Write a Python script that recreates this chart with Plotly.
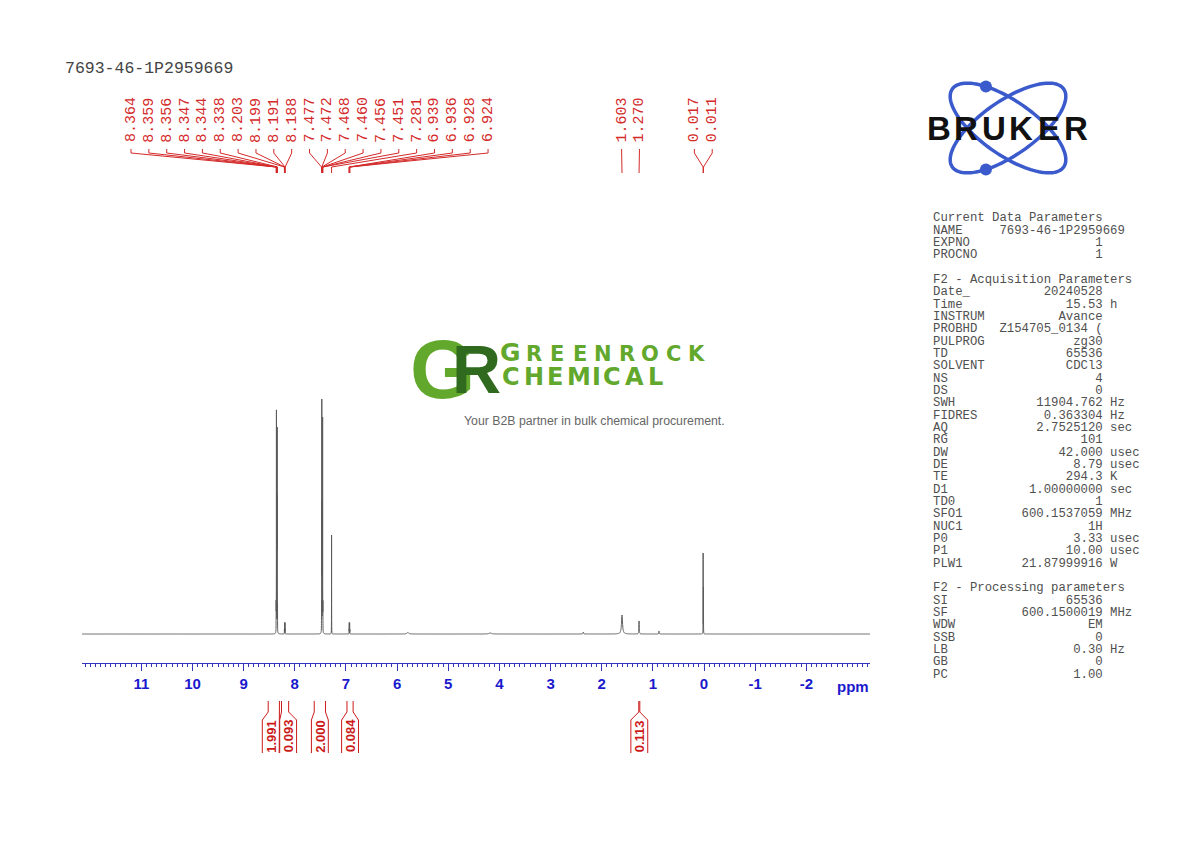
import numpy as np
import plotly.graph_objects as go

W, H = 1190, 842

spectrum_name = "7693-46-1P2959669"

# ---------------- data ----------------
# labelled peaks: position (ppm), apparent intensity, half width (ppm)
peak_ppm = [8.364, 8.359, 8.356, 8.347, 8.344, 8.338,
            8.203, 8.199, 8.191, 8.188,
            7.477, 7.472, 7.468, 7.460, 7.456, 7.451,
            7.281,
            6.939, 6.936, 6.928, 6.924,
            1.603, 1.270,
            0.017, 0.011]
peak_height = [25, 212, 120, 120, 195, 25,
               4, 11, 11, 4,
               25, 227, 120, 120, 209, 25,
               99,
               4, 11, 11, 4,
               19, 13,
               80, 45]
peak_width = [0.0009] * 21 + [0.012, 0.004, 0.0009, 0.0009]

# small unlabelled features
minor_ppm = [5.79, 4.18, 2.36, 0.88]
minor_height = [1.5, 1.0, 2.0, 3.0]
minor_width = [0.02, 0.03, 0.006, 0.004]

# peak label groups (sizes, centre of each label group in ppm)
label_group_sizes = [21, 2, 2]
label_group_center = [7.712, 1.4365, 0.014]

# integrals
int_from = [8.52, 8.26, 7.62, 6.98, 1.275]
int_to = [8.30, 8.12, 7.40, 6.86, 1.255]
int_value = ["1.991", "0.093", "2.000", "0.084", "0.113"]

# axis
tick_vals = [11, 10, 9, 8, 7, 6, 5, 4, 3, 2, 1, 0, -1, -2]
tick_text = ["11", "10", "9", "8", "7", "6", "5", "4", "3", "2", "1", "0", "-1", "-2"]
X_LEFT, X_RIGHT = 12.16, -3.245

# acquisition / processing parameters
current_params = [("NAME", "7693-46-1P2959669", ""), ("EXPNO", "1", ""), ("PROCNO", "1", "")]
acq_params = [("Date_", "20240528", ""), ("Time", "15.53", "h"), ("INSTRUM", "Avance", ""),
              ("PROBHD", "Z154705_0134 (", ""), ("PULPROG", "zg30", ""), ("TD", "65536", ""),
              ("SOLVENT", "CDCl3", ""), ("NS", "4", ""), ("DS", "0", ""),
              ("SWH", "11904.762", "Hz"), ("FIDRES", "0.363304", "Hz"), ("AQ", "2.7525120", "sec"),
              ("RG", "101", ""), ("DW", "42.000", "usec"), ("DE", "8.79", "usec"),
              ("TE", "294.3", "K"), ("D1", "1.00000000", "sec"), ("TD0", "1", ""),
              ("SFO1", "600.1537059", "MHz"), ("NUC1", "1H", ""), ("P0", "3.33", "usec"),
              ("P1", "10.00", "usec"), ("PLW1", "21.87999916", "W")]
proc_params = [("SI", "65536", ""), ("SF", "600.1500019", "MHz"), ("WDW", "EM", ""),
               ("SSB", "0", ""), ("LB", "0.30", "Hz"), ("GB", "0", ""), ("PC", "1.00", "")]

# ---------------- styles ----------------
RED = "#d42a2a"
IRED = "#cc1a1a"
BLUE = "#3333bb"
TBLUE = "#1a1acc"
MONO = "Liberation Mono"
SANS = "Liberation Sans"
LABEL_SPACING = 0.349    # ppm between neighbouring peak labels
BOX_HW = 0.165           # integral box half width (ppm)
BOX_SEP = 0.34


def px(xp):
    return xp / W


def py(yp):
    return 1 - yp / H


fig = go.Figure()

# ---------------- spectrum ----------------
all_ppm = np.array(peak_ppm + minor_ppm)
all_h = np.array(peak_height + minor_height, dtype=float)
all_w = np.array(peak_width + minor_width)
offs = np.array([-60, -30, -15, -8, -5, -3.5, -2.5, -2, -1.5, -1, -0.6, -0.3, 0,
                 0.3, 0.6, 1, 1.5, 2, 2.5, 3.5, 5, 8, 15, 30, 60])
grid = [np.linspace(X_LEFT, X_RIGHT, 8000)]
for p, w in zip(all_ppm, all_w):
    grid.append(p + w * offs)
xs = np.unique(np.concatenate(grid))[::-1]
ys = np.zeros_like(xs)
for p, h, w in zip(all_ppm, all_h, all_w):
    ys += h / (1 + ((xs - p) / w) ** 2)

fig.add_trace(go.Scatter(x=xs, y=ys, mode="lines", xaxis="x", yaxis="y",
                         line=dict(color="#5a5a5a", width=1, simplify=False),
                         hoverinfo="skip", showlegend=False))

# ---------------- peak labels and connectors ----------------
lab_x = []
for n, c in zip(label_group_sizes, label_group_center):
    for k in range(n):
        lab_x.append(c + ((n - 1) / 2 - k) * LABEL_SPACING)

cx, cy = [], []
for lx, p in zip(lab_x, peak_ppm):
    cx += [lx, lx, p, p, None]
    cy += [149, 153, 167, 173, None]
fig.add_trace(go.Scatter(x=cx, y=cy, mode="lines", xaxis="x2", yaxis="y2",
                         line=dict(color=RED, width=1), hoverinfo="skip", showlegend=False))

annotations = []
for lx, p in zip(lab_x, peak_ppm):
    annotations.append(dict(x=lx, y=120, xref="x2", yref="y2", text=f"{p:.3f}",
                            textangle=-90, showarrow=False, xanchor="center", yanchor="middle",
                            font=dict(family=MONO, size=15, color=RED)))

# ---------------- integrals ----------------
centers = [(a + b) / 2 for a, b in zip(int_from, int_to)]
for _ in range(50):
    moved = False
    for i in range(len(centers) - 1):
        gap = centers[i] - centers[i + 1]
        if gap < BOX_SEP - 1e-9:
            d = (BOX_SEP - gap) / 2
            centers[i] += d
            centers[i + 1] -= d
            moved = True
    if not moved:
        break

ix, iy = [], []
for a, b, c in zip(int_from, int_to, centers):
    ix += [a, a, c + BOX_HW, c + BOX_HW, None, b, b, c - BOX_HW, c - BOX_HW, None]
    iy += [701, 712, 720, 753, None, 701, 712, 720, 753, None]
fig.add_trace(go.Scatter(x=ix, y=iy, mode="lines", xaxis="x2", yaxis="y2",
                         line=dict(color=IRED, width=1), hoverinfo="skip", showlegend=False))
for c, v in zip(centers, int_value):
    annotations.append(dict(x=c, y=736, xref="x2", yref="y2", text=v, textangle=-90,
                            showarrow=False, xanchor="center", yanchor="middle",
                            font=dict(family=SANS, size=13, color=IRED, weight="bold")))

# ---------------- texts ----------------
annotations.append(dict(x=px(63), y=py(68), xref="paper", yref="paper", text=spectrum_name,
                        showarrow=False, xanchor="left", yanchor="middle",
                        font=dict(family=MONO, size=16.5, color="#444444")))
annotations.append(dict(x=px(853), y=py(686), xref="paper", yref="paper", text="ppm",
                        showarrow=False, xanchor="center", yanchor="middle",
                        font=dict(family=SANS, size=15, color=TBLUE, weight="bold")))

NB = "\u00a0"


def fmt(label, value, unit):
    if len(value) > 15:
        line = label.ljust(9) + value
    else:
        line = label.ljust(8) + value.rjust(15)
    if unit:
        line += " " + unit
    return line.replace(" ", NB)


panel_lines = ["Current Data Parameters"] + [fmt(*r) for r in current_params] + [""] + \
              ["F2 - Acquisition Parameters"] + [fmt(*r) for r in acq_params] + [""] + \
              ["F2 - Processing parameters"] + [fmt(*r) for r in proc_params]
for i, line in enumerate(panel_lines):
    if not line:
        continue
    annotations.append(dict(x=px(931), y=py(218.3 + i * 12.33), xref="paper", yref="paper",
                            text=line.replace(" ", NB), showarrow=False, xanchor="left",
                            yanchor="middle",
                            font=dict(family=MONO, size=12.3, color="#505050")))

# ---------------- Greenrock logo ----------------
GREEN = "#62a82c"
DGREEN = "#2f6a1f"
annotations.append(dict(x=px(442), y=py(369), xref="paper", yref="paper", text="G",
                        showarrow=False, xanchor="center", yanchor="middle",
                        font=dict(family=SANS, size=84, color=GREEN, weight="bold")))
annotations.append(dict(x=px(476), y=py(369), xref="paper", yref="paper", text="R",
                        showarrow=False, xanchor="center", yanchor="middle",
                        font=dict(family=SANS, size=68, color=DGREEN, weight="bold")))
line1 = "GREENROCK"
l1x = [510] + [533.6 + 23.25 * k for k in range(8)]
for k, (ch, x0) in enumerate(zip(line1, l1x)):
    size = 25 if k == 0 else 21
    ycen = 352.5 if k == 0 else 354
    annotations.append(dict(x=px(x0), y=py(ycen), xref="paper", yref="paper", text=ch,
                            showarrow=False, xanchor="center", yanchor="middle",
                            font=dict(family="DejaVu Sans", size=size, color=GREEN,
                                      weight="bold")))
line2 = "CHEMICAL"
l2x = [511.2, 533.6, 554.9, 578.5, 596.4, 612.1, 634.5, 655.2]
for ch, x0 in zip(line2, l2x):
    annotations.append(dict(x=px(x0), y=py(376.5), xref="paper", yref="paper", text=ch,
                            showarrow=False, xanchor="center", yanchor="middle",
                            font=dict(family="DejaVu Sans", size=24, color=GREEN,
                                      weight="bold")))
annotations.append(dict(x=px(594.5), y=py(421), xref="paper", yref="paper",
                        text="Your B2B partner in bulk chemical procurement.",
                        showarrow=False, xanchor="center", yanchor="middle",
                        font=dict(family=SANS, size=12.3, color="#666666")))

# ---------------- Bruker logo ----------------
LBLUE = "#3b5bcc"
shapes = []
ecx, ecy, ea, eb = 1008, 128, 68, 27
t = np.linspace(0, 2 * np.pi, 120)
for ang in (35, -35):
    th = np.radians(ang)
    ex = ecx + ea * np.cos(t) * np.cos(th) - eb * np.sin(t) * np.sin(th)
    ey = ecy + ea * np.cos(t) * np.sin(th) + eb * np.sin(t) * np.cos(th)
    path = "M " + " L ".join(f"{px(a):.5f},{py(b):.5f}" for a, b in zip(ex, ey)) + " Z"
    shapes.append(dict(type="path", path=path, xref="paper", yref="paper",
                       line=dict(color=LBLUE, width=3.5)))
for ang, tt in ((35, np.radians(232)), (-35, np.radians(128))):
    th = np.radians(ang)
    dx = ecx + ea * np.cos(tt) * np.cos(th) - eb * np.sin(tt) * np.sin(th)
    dy = ecy + ea * np.cos(tt) * np.sin(th) + eb * np.sin(tt) * np.cos(th)
    r = 6
    shapes.append(dict(type="circle", xref="paper", yref="paper",
                       x0=px(dx - r), x1=px(dx + r), y0=py(dy + r), y1=py(dy - r),
                       fillcolor=LBLUE, line=dict(color=LBLUE, width=0)))
for k, ch in enumerate("BRUKER"):
    annotations.append(dict(x=px(938.75 + 27.5 * k), y=py(129), xref="paper", yref="paper",
                            text=ch, showarrow=False, xanchor="center", yanchor="middle",
                            font=dict(family=SANS, size=33, color="#111111", weight="bold")))

fig.update_layout(
    width=W, height=H, autosize=False,
    margin=dict(l=0, r=0, t=0, b=0),
    paper_bgcolor="white", plot_bgcolor="rgba(0,0,0,0)",
    showlegend=False,
    xaxis=dict(domain=[82 / W, 870 / W], range=[X_LEFT, X_RIGHT], anchor="y",
               showline=True, linecolor=BLUE, linewidth=1,
               ticks="outside", ticklen=7, tickwidth=1, tickcolor=BLUE,
               tickmode="array", tickvals=tick_vals, ticktext=tick_text,
               tickfont=dict(family=SANS, size=15, color=TBLUE, weight="bold"),
               minor=dict(tickmode="linear", tick0=0, dtick=0.1, ticks="outside",
                          ticklen=3, tickwidth=1, tickcolor=BLUE, showgrid=False),
               showgrid=False, zeroline=False, fixedrange=True),
    yaxis=dict(domain=[1 - 663 / H, 1 - 384 / H], range=[-29, 250], visible=False,
               fixedrange=True),
    xaxis2=dict(domain=[82 / W, 870 / W], range=[X_LEFT, X_RIGHT], anchor="y2",
                visible=False, fixedrange=True),
    yaxis2=dict(domain=[0, 1], range=[H, 0], anchor="x2", visible=False, fixedrange=True),
    annotations=annotations,
    shapes=shapes,
)

fig.write_html("out.html", config={"displayModeBar": False},
               post_script="document.body.style.margin='0';document.body.style.padding='0';")
